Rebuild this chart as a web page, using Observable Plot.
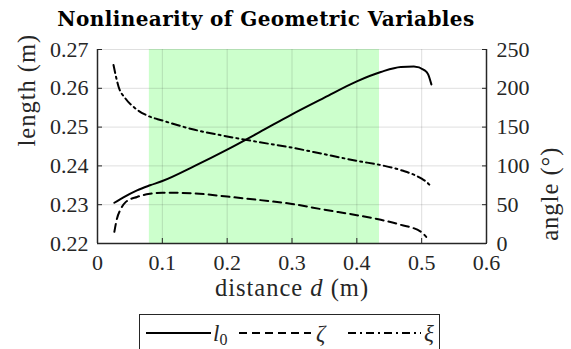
<!DOCTYPE html>
<html>
<head>
<meta charset="utf-8">
<script src="https://cdn.jsdelivr.net/npm/d3@7"></script>
<script src="https://cdn.jsdelivr.net/npm/@observablehq/plot@0.6"></script>
<style>
  body { margin: 0; background: #fff; }
  #fig { position: relative; width: 571px; height: 349px; overflow: hidden; font-family: "Liberation Serif", serif; color: #000; }
  #fig .layer { position: absolute; left: 0; top: 0; }
  #title { position: absolute; left: 0; width: 532px; top: 8px; text-align: center; font-family: "DejaVu Serif", serif; font-weight: bold; font-size: 20px; letter-spacing: 0.4px; line-height: 22px; color: #000; white-space: nowrap; }
  #legend { position: absolute; left: 139px; top: 314px; width: 301px; height: 50px; box-sizing: border-box; border: 1px solid #262626; background: #fff; }
</style>
</head>
<body>
<div id="fig">
  <div id="title">Nonlinearity of Geometric Variables</div>
</div>
<script>
// Axis ticks
const distanceTicks = [0, 0.1, 0.2, 0.3, 0.4, 0.5, 0.6];
const lengthTicks = [0.22, 0.23, 0.24, 0.25, 0.26, 0.27];
const angleTicks = [0, 50, 100, 150, 200, 250];

// Highlighted distance band
const bandStart = 0.08;
const bandEnd = 0.435;

// l0 (length, m) against distance d (m)
const l0Distance = [0.026, 0.04, 0.061, 0.081, 0.1, 0.15, 0.2, 0.25, 0.3, 0.35, 0.4, 0.437, 0.468, 0.488, 0.504, 0.51, 0.515];
const l0Length   = [0.2305, 0.2319, 0.2337, 0.2350, 0.2361, 0.2400, 0.2442, 0.2487, 0.2533, 0.2576, 0.2618, 0.2642, 0.2655, 0.2656, 0.2647, 0.2636, 0.2610];

// zeta (angle, deg) against distance d (m)
const zetaDistance = [0.026, 0.030, 0.035, 0.043, 0.061, 0.081, 0.1, 0.15, 0.2, 0.25, 0.3, 0.35, 0.4, 0.437, 0.468, 0.499, 0.507];
const zetaAngle    = [15, 32, 43, 53, 60, 64, 65.5, 64.5, 60.5, 56, 51, 43.5, 36.5, 30.5, 24, 15, 8.5];

// xi (angle, deg) against distance d (m)
const xiDistance = [0.0247, 0.0325, 0.043, 0.0556, 0.0763, 0.1, 0.15, 0.2, 0.25, 0.3, 0.35, 0.4, 0.44, 0.47, 0.5, 0.508, 0.515];
const xiAngle    = [230, 202, 187, 176, 165, 158.5, 146.5, 138, 130.5, 123.5, 115, 106.5, 100.5, 94, 83.5, 79, 73];

const zip = (xs, ys) => xs.map((d, i) => ({d, v: ys[i]}));
const l0 = zip(l0Distance, l0Length);
const zeta = zip(zetaDistance, zetaAngle);
const xi = zip(xiDistance, xiAngle);

const axisColor = "#262626";
const dashed = "8,5";
const dashDot = "8,4,2,4";
const xLabel = "distance d (m)";
const labelStyle = {fontSize: 24.5, fill: axisColor};

const frame = {
  width: 571, height: 310,
  marginLeft: 97, marginRight: 85, marginTop: 49, marginBottom: 67,
  style: {fontFamily: "Liberation Serif, serif", fontSize: "22px", color: axisColor, background: "transparent", overflow: "visible"}
};

// Left-axis layer: band, grid, l0, x axis and length axis
const left = Plot.plot({
  ...frame,
  x: {domain: [0, 0.6]},
  y: {domain: [0.22, 0.27]},
  marks: [
    Plot.rect([{start: bandStart, end: bandEnd}], {x1: "start", x2: "end", fill: "#ccffcc"}),
    Plot.gridX(distanceTicks, {stroke: axisColor, strokeOpacity: 0.15, strokeWidth: 1}),
    Plot.gridY(lengthTicks, {stroke: axisColor, strokeOpacity: 0.15, strokeWidth: 1}),
    Plot.line(l0, {x: "d", y: "v", curve: "monotone-x", stroke: "#000", strokeWidth: 2}),
    Plot.axisX(distanceTicks, {tickSize: -5, tickPadding: 16, tickFormat: d => String(d), label: null, stroke: axisColor}),
    Plot.axisY(lengthTicks, {tickSize: -5, tickPadding: 14, tickFormat: d3.format(".2f"), label: null, stroke: axisColor}),
    Plot.ruleX([0], {stroke: axisColor, strokeWidth: 1.5}),
    Plot.ruleX([0.6], {stroke: axisColor, strokeWidth: 1.5}),
    Plot.ruleY([0.22], {stroke: axisColor, strokeWidth: 1.5}),
    Plot.text(["length (m)"], {frameAnchor: "left", rotate: -90, dx: -70, ...labelStyle}),
    Plot.text([xLabel], {frameAnchor: "bottom", dy: 52, ...labelStyle})
  ]
});

// Right-axis layer: zeta, xi and angle axis
const right = Plot.plot({
  ...frame,
  x: {domain: [0, 0.6], axis: null},
  y: {domain: [0, 250]},
  marks: [
    Plot.line(zeta, {x: "d", y: "v", curve: "monotone-x", stroke: "#000", strokeWidth: 2, strokeDasharray: dashed}),
    Plot.line(xi, {x: "d", y: "v", curve: "monotone-x", stroke: "#000", strokeWidth: 2, strokeDasharray: dashDot}),
    Plot.axisY(angleTicks, {anchor: "right", tickSize: -5, tickPadding: 15, tickFormat: d => String(d), label: null, stroke: axisColor}),
    Plot.text(["angle (°)"], {frameAnchor: "right", rotate: -90, dx: 64, ...labelStyle})
  ]
});

const svgNS = "http://www.w3.org/2000/svg";

// Letter spacing on the axis titles, italic d in the x-axis title
for (const svg of [left, right]) {
  for (const t of svg.querySelectorAll("text")) {
    const s = t.textContent;
    if (s === xLabel || s === "length (m)" || s === "angle (°)") t.style.letterSpacing = "1px";
    if (s === xLabel) {
      t.textContent = "";
      for (const [part, style] of [["distance ", null], ["d", "italic"], [" (m)", null]]) {
        const span = document.createElementNS(svgNS, "tspan");
        span.textContent = part;
        if (style) span.setAttribute("font-style", style);
        t.appendChild(span);
      }
    }
  }
}

const fig = document.getElementById("fig");
left.classList.add("layer");
right.classList.add("layer");
fig.insertBefore(left, fig.firstChild);
fig.insertBefore(right, left.nextSibling);

// Legend with line samples
const series = [
  {name: "l", sub: "0", dash: null, x0: 6, x1: 71, tx: 73},
  {name: "ζ", sub: null, dash: dashed, x0: 99, x1: 171, tx: 176},
  {name: "ξ", sub: null, dash: dashDot, x0: 208, x1: 281, tx: 284}
];
const legend = document.createElement("div");
legend.id = "legend";
const ls = document.createElementNS(svgNS, "svg");
ls.setAttribute("width", 299);
ls.setAttribute("height", 48);
ls.style.fontFamily = "Liberation Serif, serif";
for (const s of series) {
  const ln = document.createElementNS(svgNS, "line");
  ln.setAttribute("x1", s.x0); ln.setAttribute("x2", s.x1);
  ln.setAttribute("y1", 18); ln.setAttribute("y2", 18);
  ln.setAttribute("stroke", "#000"); ln.setAttribute("stroke-width", 2);
  if (s.dash) ln.setAttribute("stroke-dasharray", s.dash);
  ls.appendChild(ln);
  const tx = document.createElementNS(svgNS, "text");
  tx.setAttribute("x", s.tx); tx.setAttribute("y", 26);
  tx.setAttribute("font-size", 23); tx.setAttribute("fill", axisColor);
  const a = document.createElementNS(svgNS, "tspan");
  a.setAttribute("font-style", "italic");
  a.textContent = s.name;
  tx.appendChild(a);
  if (s.sub) {
    const b = document.createElementNS(svgNS, "tspan");
    b.setAttribute("font-size", 16); b.setAttribute("dy", 4);
    b.textContent = s.sub;
    tx.appendChild(b);
  }
  ls.appendChild(tx);
}
legend.appendChild(ls);
fig.appendChild(legend);
</script>
</body>
</html>
